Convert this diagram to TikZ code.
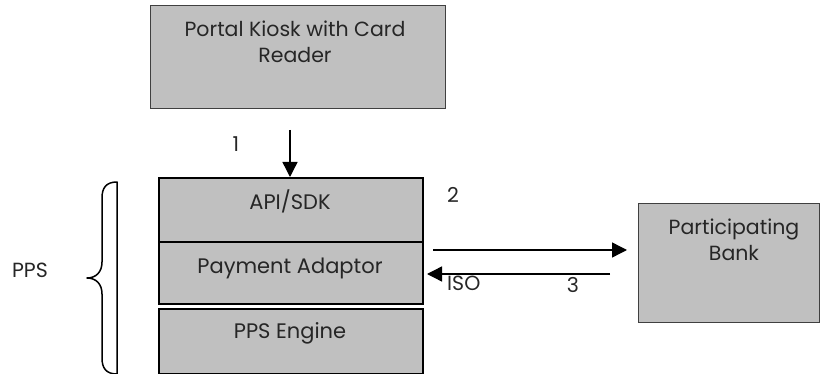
\documentclass[tikz,border=0pt]{standalone}
\usepackage{fontspec}
\setmainfont{Poppins}
\usetikzlibrary{arrows.meta}
\definecolor{boxgray}{HTML}{C0C0C0}
\definecolor{edgegray}{HTML}{404040}
\tikzset{
  lbl/.style={font=\fontsize{20.5}{26.5}\selectfont, text=black!85, inner sep=0pt, align=center},
  biglbl/.style={lbl, font=\fontsize{21}{26.5}\selectfont},
  softbox/.style={draw=edgegray, line width=1pt, fill=boxgray, inner sep=0pt, anchor=north west},
  ppsbox/.style={draw=black, line width=2pt, fill=boxgray, inner sep=0pt, anchor=north west},
  flow/.style={line width=1.4pt, -{Triangle[length=15pt,width=15pt]}}
}
\begin{document}
\begin{tikzpicture}[x=1pt, y=-1pt]
  \useasboundingbox (0,0) rectangle (820,374);

  % external parties
  \node[softbox, minimum width=295pt, minimum height=103pt] (kiosk) at (150,5) {};
  \node[softbox, minimum width=181pt, minimum height=119pt] (bank) at (638,203) {};

  % PPS stack
  \node[ppsbox, minimum width=264pt, minimum height=64pt] (api) at (158,177) {};
  \node[ppsbox, minimum width=264pt, minimum height=62pt] (adaptor) at (158,241) {};
  \node[ppsbox, minimum width=264pt, minimum height=65pt] (engine) at (158,308) {};

  % box captions (base anchor sits on the last line)
  \node[lbl, anchor=base] (kiosktxt) at (295,63) {Portal Kiosk with Card\\Reader};
  \node[lbl, anchor=base] (banktxt) at (734,261) {Participating\\Bank};
  \node[biglbl, anchor=base] (apitxt) at (290,210) {API/SDK};
  \node[biglbl, anchor=base] (adaptortxt) at (290,274) {Payment Adaptor};
  \node[biglbl, anchor=base] (enginetxt) at (290,338) {PPS Engine};

  % connectors
  \coordinate (k1) at (290,130);
  \draw[flow] (k1) -- (api.north -| k1);
  \coordinate (a2) at (433,250);
  \coordinate (b2) at (627,250);
  \draw[flow] (a2) -- (b2);
  \coordinate (b3) at (610,274);
  \coordinate (a3) at (427,274);
  \draw[flow] (b3) -- (a3);

  % step numbers
  \node[lbl, anchor=base] (n1) at (236,152) {1};
  \node[lbl, anchor=base] (n2) at (453,203) {2};
  \node[lbl, anchor=base west] (iso) at (447,291) {ISO};
  \node[lbl, anchor=base] (n3) at (573,293) {3};

  % PPS brace
  \draw[line width=1.5pt, line join=round]
    (117,182) .. controls (106,182) and (102,188) .. (102,198)
    -- (102,262) .. controls (102,272) and (96,278) .. (87,278)
    .. controls (96,278) and (102,284) .. (102,294)
    -- (102,358) .. controls (102,368) and (106,374) .. (117,374)
    -- cycle;
  \node[lbl, anchor=base] (pps) at (30,278) {PPS};
\end{tikzpicture}
\end{document}
